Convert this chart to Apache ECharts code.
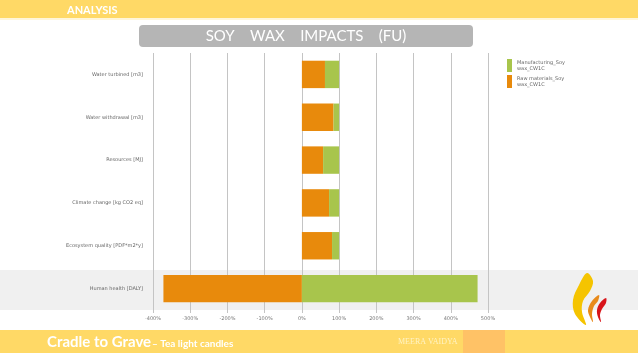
<!DOCTYPE html>
<html><head><meta charset="utf-8">
<script src="https://cdn.jsdelivr.net/npm/echarts@6/dist/echarts.min.js"></script>
<style>html,body{margin:0;padding:0;background:#fff}#c{width:638px;height:359px}</style>
</head><body><div id="c"></div>
<script>
const categories = ["Water turbined [m3]", "Water withdrawal [m3]", "Resources [MJ]", "Climate change [kg CO2 eq]", "Ecosystem quality [PDF*m2*y]", "Human health [DALY]"];
const rawMaterials = [62, 85, 57, 73, 81, -372];
const manufacturing = [38, 15, 43, 27, 19, 472];
const seriesNames = ["Manufacturing_Soy\nwax_CW1C", "Raw materials_Soy\nwax_CW1C"];
const xTicks = {min: -400, max: 500, interval: 100};

const chart = echarts.init(document.getElementById('c'), null, {renderer: 'canvas'});
chart.setOption({
  animation: false,
  backgroundColor: '#ffffff',
  grid: {left: 153, right: 150, top: 53, bottom: 49, containLabel: false},
  legend: {
    orient: 'vertical', left: 502, top: 54, itemWidth: 5, itemHeight: 13, itemGap: 3,
    icon: 'rect',
    data: [seriesNames[0], seriesNames[1]],
    textStyle: {fontSize: 5, color: '#666', fontFamily: 'DejaVu Sans', lineHeight: 6}
  },
  xAxis: {
    type: 'value', min: xTicks.min, max: xTicks.max, interval: xTicks.interval,
    axisLine: {show: false},
    axisTick: {show: true, length: 3, lineStyle: {color: '#c4c4c4'}},
    splitLine: {show: true, lineStyle: {color: '#c4c4c4', width: 1}},
    axisLabel: {formatter: '{value}%', fontSize: 5, color: '#777', margin: 6, fontFamily: 'DejaVu Sans'}
  },
  yAxis: {
    type: 'category', data: categories, inverse: true,
    axisLine: {show: false}, axisTick: {show: false},
    axisLabel: {fontSize: 5, color: '#666', margin: 10, fontFamily: 'DejaVu Sans'}
  },
  series: [
    {name: seriesNames[1], type: 'bar', stack: 'a', data: rawMaterials, barWidth: '64%',
     itemStyle: {color: '#E88A0C'}, z: 3},
    {name: seriesNames[0], type: 'bar', stack: 'a', data: manufacturing, barWidth: '64%',
     itemStyle: {color: '#A8C54C'}, z: 3}
  ],
  graphic: [
    {type: 'rect', z: -1, shape: {x: 0, y: 270, width: 638, height: 40}, style: {fill: '#f0f0f0'}},
    {type: 'rect', shape: {x: 0, y: 0, width: 638, height: 18}, style: {fill: '#FFD966'}},
    {type: 'rect', shape: {x: 0, y: 18, width: 638, height: 2}, style: {fill: '#FFF6DA'}},
    {type: 'text', style: {x: 67, y: 10, text: 'ANALYSIS', fill: '#ffffff', font: 'bold 11px Lato', textVerticalAlign: 'middle'}},
    {type: 'rect', shape: {x: 139, y: 25, width: 334, height: 22, r: 4}, style: {fill: '#B5B5B5'}},
    {type: 'text', style: {x: 306, y: 36, text: 'SOY    WAX    IMPACTS    (FU)', fill: '#ffffff', font: '15px Lato', textAlign: 'center', textVerticalAlign: 'middle'}},
    {type: 'rect', shape: {x: 0, y: 330, width: 638, height: 23}, style: {fill: '#FFD966'}},
    {type: 'rect', shape: {x: 463, y: 330, width: 42, height: 23}, style: {fill: '#FFC266'}},
    {type: 'text', style: {x: 47, y: 342, text: 'Cradle to Grave', fill: '#ffffff', font: 'bold 15px Lato', textVerticalAlign: 'middle'}},
    {type: 'text', style: {x: 152, y: 344, text: '– Tea light candles', fill: '#ffffff', font: 'bold 10px Lato', textVerticalAlign: 'middle'}},
    {type: 'text', style: {x: 398, y: 342, text: 'MEERA VAIDYA', fill: '#FFF3C4', font: '8px "Liberation Serif"', textVerticalAlign: 'middle'}},
    {type: 'polygon', shape: {smooth: 0.35, points: [[587,273],[579,285],[573,300],[575,314],[586,325],[582,312],[583,301],[590,291],[593,281]]}, style: {fill: '#F5C400'}},
    {type: 'polygon', shape: {smooth: 0.35, points: [[599,295],[592,301],[588,310],[590,317],[593,322],[592,314],[594,306],[598,301]]}, style: {fill: '#E88A1A'}},
    {type: 'polygon', shape: {smooth: 0.35, points: [[606,298],[600,303],[597,310],[598,317],[601,322],[600,315],[602,309],[606,303]]}, style: {fill: '#D8141A'}}
  ]
});
</script></body></html>
